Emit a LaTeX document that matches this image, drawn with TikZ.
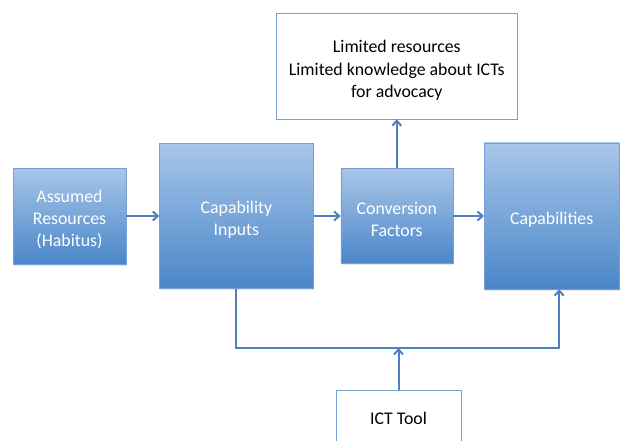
\documentclass[tikz,border=0pt]{standalone}
\usepackage{fontspec}
\setmainfont{Carlito}
\usetikzlibrary{
  positioning,
  arrows.meta,
  shadows
}
\definecolor{boxtop}{RGB}{168,198,232}
\definecolor{boxbot}{RGB}{74,134,202}
\definecolor{boxedge}{RGB}{118,160,212}
\definecolor{linkblue}{RGB}{79,129,194}

\begin{document}
\begin{tikzpicture}[
  x=1pt, y=-1pt,
  >={Straight Barb[length=5pt,width=9pt]},
  blockbox/.style={draw=boxedge, top color=boxtop, bottom color=boxbot,
                   text=white, align=center, inner sep=2pt,
                   font=\fontsize{17.8}{22}\selectfont,
                   drop shadow={opacity=0.18, shadow xshift=1pt, shadow yshift=-1.5pt}},
  notebox/.style={draw=boxedge, fill=white, align=center, inner sep=2pt,
                  font=\fontsize{17.8}{22.5}\selectfont},
  link/.style={->, line width=2pt, linkblue},
]
\useasboundingbox (0,0) rectangle (621,441);

\node[blockbox, text height=63pt, minimum width=113pt, minimum height=96pt] (assumed) at (69.5,216) {Assumed\\Resources\\(Habitus)};
\node[blockbox, text height=41pt, minimum width=154pt, minimum height=145pt, right=33pt of assumed] (inputs) {Capability\\Inputs};
\node[blockbox, text height=41pt, minimum width=112pt, minimum height=95pt, right=27pt of inputs] (conversion) {Conversion\\Factors};
\node[blockbox, text height=19pt, minimum width=135pt, minimum height=146pt, right=31pt of conversion] (capab) {Capabilities};
\node[notebox, text height=66pt, minimum width=241pt, minimum height=106pt, above=49pt of conversion] (limits) {Limited resources\\Limited knowledge about ICTs\\for advocacy};
\node[notebox, minimum width=125pt, minimum height=56pt] (tool) at (398.5,418) {ICT Tool};
\coordinate (merge) at (tool.north |- 0,348);

\draw[link] (assumed) -- (inputs);
\draw[link] (inputs) -- (conversion);
\draw[link] (conversion) -- (capab);
\draw[link] (conversion) -- (limits);
\draw[link] (inputs.south) |- (merge) -| ([xshift=7.5pt]capab.south);
\draw[link] (tool) -- (merge);

\end{tikzpicture}
\end{document}
